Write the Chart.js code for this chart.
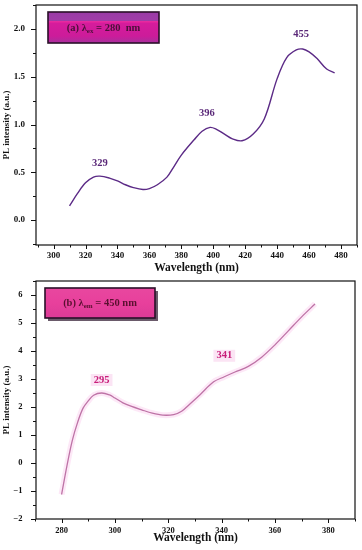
<!DOCTYPE html>
<html>
<head>
<meta charset="utf-8">
<script src="https://cdn.jsdelivr.net/npm/chart.js@4.4.0/dist/chart.umd.min.js"></script>
<style>
body{margin:0;background:#fff;}
#wrap{position:relative;width:362px;height:550px;}
.pane{position:absolute;left:0;width:362px;height:275px;}
</style>
</head>
<body>
<div id="wrap">
<div class="pane" style="top:0"><canvas id="chartA" width="362" height="275"></canvas></div>
<div class="pane" style="top:275px"><canvas id="chartB" width="362" height="275"></canvas></div>
</div>
<script>
// (a) excitation at 280 nm
const wavelengthA = [310,315,320,325,329,335,340,345,350,356,360,365,371,375,380,388,393,398,402,407,412,418,425,432,440,446,452,456,460,465,471,476];
const intensityA  = [0.15,0.28,0.39,0.45,0.46,0.44,0.41,0.37,0.34,0.32,0.33,0.37,0.45,0.55,0.68,0.84,0.93,0.97,0.95,0.9,0.85,0.83,0.9,1.06,1.48,1.7,1.78,1.79,1.76,1.69,1.58,1.54];
const peaksA = [329,396,455];
const xTicksA = [300,320,340,360,380,400,420,440,460,480];
const yTicksA = [0,0.5,1,1.5,2];

// (b) emission at 450 nm
const wavelengthB = [280,282,284,286,288,290,292,295,298,300,303,306,310,314,318,322,325,328,332,337,341,345,350,355,360,365,370,375];
const intensityB  = [-1.12,-0.1,0.8,1.45,1.95,2.22,2.42,2.5,2.43,2.32,2.15,2.03,1.9,1.78,1.71,1.73,1.85,2.1,2.45,2.9,3.08,3.25,3.45,3.78,4.22,4.72,5.22,5.68];
const peaksB = [295,341];
const xTicksB = [280,300,320,340,360,380];
const yTicksB = [-2,-1,0,1,2,3,4,5,6];

const serif = "'Liberation Serif','Times New Roman',serif";
Chart.defaults.font.family = serif;
Chart.defaults.color = '#111';

function pts(xs, ys){ return xs.map((x,i)=>({x:x, y:ys[i]})); }

function decor(o){
  return {
    id:'decor',
    beforeDatasetsDraw(chart){
      const ctx = chart.ctx;
      ctx.save();
      // label box
      const b = o.box;
      if (o.shadow){ ctx.fillStyle='#6a5a6a'; ctx.fillRect(b.x+3,b.y+3,b.w,b.h); }
      const g = ctx.createLinearGradient(0,b.y,0,b.y+b.h);
      o.stops.forEach(s=>g.addColorStop(s[0],s[1]));
      ctx.fillStyle = g; ctx.fillRect(b.x,b.y,b.w,b.h);
      ctx.strokeStyle='#2a1028'; ctx.lineWidth=1.6; ctx.strokeRect(b.x,b.y,b.w,b.h);
      ctx.fillStyle = o.boxText; ctx.textBaseline='middle';
      ctx.font = 'bold 10.5px '+serif;
      const p1 = o.head, sub = o.sub, p2 = o.tail;
      const w1 = ctx.measureText(p1).width;
      ctx.font = 'bold 7px '+serif; const ws = ctx.measureText(sub).width;
      ctx.font = 'bold 10.5px '+serif; const w2 = ctx.measureText(p2).width;
      let tx = b.x + b.w/2 - (w1+ws+w2)/2, ty = b.y + b.h/2 + 0.5;
      ctx.textAlign='left';
      ctx.fillText(p1,tx,ty); tx += w1;
      ctx.font = 'bold 7px '+serif; ctx.fillText(sub,tx,ty+3); tx += ws;
      ctx.font = 'bold 10.5px '+serif; ctx.fillText(p2,tx,ty);
      ctx.restore();
    },
    afterDraw(chart){
      const ctx = chart.ctx, a = chart.chartArea, xs = chart.scales.x, ys = chart.scales.y;
      ctx.save();
      ctx.strokeStyle='#111'; ctx.lineWidth=1.2;
      ctx.strokeRect(a.left,a.top,a.width,a.height);
      ctx.lineWidth=1;
      ctx.beginPath();
      o.xMajor.forEach(v=>{const p=Math.round(xs.getPixelForValue(v))+0.5; ctx.moveTo(p,a.bottom); ctx.lineTo(p,a.bottom+4);});
      o.xMinor.forEach(v=>{const p=Math.round(xs.getPixelForValue(v))+0.5; ctx.moveTo(p,a.bottom); ctx.lineTo(p,a.bottom+2.5);});
      o.yMajor.forEach(v=>{const p=Math.round(ys.getPixelForValue(v))+0.5; ctx.moveTo(a.left,p); ctx.lineTo(a.left-5,p);});
      o.yMinor.forEach(v=>{const p=Math.round(ys.getPixelForValue(v))+0.5; ctx.moveTo(a.left,p); ctx.lineTo(a.left-3,p);});
      ctx.stroke();
      // peak labels
      ctx.font = 'bold 10.5px '+serif; ctx.textAlign='center'; ctx.textBaseline='middle';
      o.peaks.forEach((pk,i)=>{
        const k = o.wl.reduce((bi,v,j)=>Math.abs(v-pk)<Math.abs(o.wl[bi]-pk)?j:bi,0);
        const px = xs.getPixelForValue(pk), py = ys.getPixelForValue(o.iv[k]) - o.lift[i];
        if (o.labelBg){ ctx.fillStyle=o.labelBg; const w=ctx.measureText(String(pk)).width; ctx.fillRect(px-w/2-3,py-6,w+6,12); }
        ctx.fillStyle = o.peakColor; ctx.fillText(String(pk),px,py);
      });
      ctx.restore();
    }
  };
}

function minors(lo, hi, step, majors){
  const out = [];
  for (let v = lo; v <= hi + 1e-9; v += step){ const r = Math.round(v*100)/100; if (!majors.some(m=>Math.abs(m-r)<1e-6)) out.push(r); }
  return out;
}

function makeChart(id, cfg){
  return new Chart(document.getElementById(id), {
    type:'line',
    data:{ datasets: cfg.datasets },
    options:{
      responsive:false, animation:false,
      layout:{ padding:cfg.pad },
      plugins:{ legend:{display:false}, tooltip:{enabled:false} },
      elements:{ point:{radius:0}, line:{tension:0.35} },
      scales:{
        x:{ type:'linear', min:cfg.xmin, max:cfg.xmax,
            grid:{display:false, drawTicks:false}, border:{display:false},
            ticks:{ font:{size:cfg.tickSize, weight:'bold'}, padding:cfg.xPad, maxRotation:0, includeBounds:false },
            afterBuildTicks(s){ s.ticks = cfg.xTicks.map(v=>({value:v})); },
            afterFit(s){ s.height = cfg.xH; s.paddingLeft = 0; s.paddingRight = 0; },
            title:{ display:true, text:'Wavelength (nm)', font:{size:11.5, weight:'bold'}, padding:{top:0,bottom:cfg.xTitlePad} } },
        y:{ type:'linear', min:cfg.ymin, max:cfg.ymax,
            grid:{display:false, drawTicks:false}, border:{display:false},
            ticks:{ font:{size:cfg.tickSize, weight:'bold'}, padding:cfg.yPad, includeBounds:false, callback:cfg.yFmt },
            afterBuildTicks(s){ s.ticks = cfg.yTicks.map(v=>({value:v})); },
            afterFit(s){ s.width = 36; s.paddingTop = 0; s.paddingBottom = 0; },
            title:{ display:true, text:'PL intensity (a.u.)', font:{size:9, weight:'bold'}, padding:{top:1.5,bottom:0} } }
      }
    },
    plugins:[cfg.plugin]
  });
}

makeChart('chartA', {
  datasets:[{ data:pts(wavelengthA,intensityA), borderColor:'#5b2a86', borderWidth:1.4, fill:false }],
  pad:{left:0, top:5, right:5, bottom:0},
  xmin:289, xmax:490, ymin:-0.26, ymax:2.25,
  xTicks:xTicksA, yTicks:yTicksA, tickSize:9, xPad:5.6, yPad:11, xH:30, xTitlePad:0,
  yFmt:v=>v.toFixed(1),
  plugin:decor({
    box:{x:48,y:12,w:111,h:31}, shadow:false,
    stops:[[0,'#9a3aa6'],[0.28,'#a03ca8'],[0.31,'#f0289e'],[0.36,'#d61c9c'],[0.78,'#cc1c9a'],[1,'#a8309e']],
    boxText:'#4a1038', head:'(a) λ', sub:'ex', tail:' = 280  nm',
    xMajor:xTicksA, xMinor:minors(290,490,10,xTicksA),
    yMajor:yTicksA, yMinor:minors(-0.25,2.25,0.25,yTicksA),
    peaks:peaksA, wl:wavelengthA, iv:intensityA, lift:[13,14,15], peakColor:'#5a2878', labelBg:null
  })
});

makeChart('chartB', {
  datasets:[
    { data:pts(wavelengthB,intensityB), borderColor:'rgba(250,205,238,0.45)', borderWidth:6, fill:false },
    { data:pts(wavelengthB,intensityB), borderColor:'#8c2a6c', borderWidth:1.3, fill:false }
  ],
  pad:{left:0, top:6, right:7, bottom:0},
  xmin:270.4, xmax:390, ymin:-2, ymax:6.5,
  xTicks:xTicksB, yTicks:yTicksB, tickSize:8.5, xPad:7, yPad:13.5, xH:31, xTitlePad:5.4,
  yFmt:v=>String(v).replace('-','\u2212'),
  plugin:decor({
    box:{x:45,y:13,w:110,h:30}, shadow:true,
    stops:[[0,'#e8479f'],[0.5,'#e8409c'],[1,'#dc3a96']],
    boxText:'#5a1030', head:'(b) λ', sub:'em', tail:' = 450 nm',
    xMajor:xTicksB, xMinor:minors(270,390,10,xTicksB),
    yMajor:yTicksB, yMinor:minors(-2,6.5,0.5,yTicksB),
    peaks:peaksB, wl:wavelengthB, iv:intensityB, lift:[13,21], peakColor:'#c81e7a', labelBg:'#fbe4f4'
  })
});
</script>
</body>
</html>
